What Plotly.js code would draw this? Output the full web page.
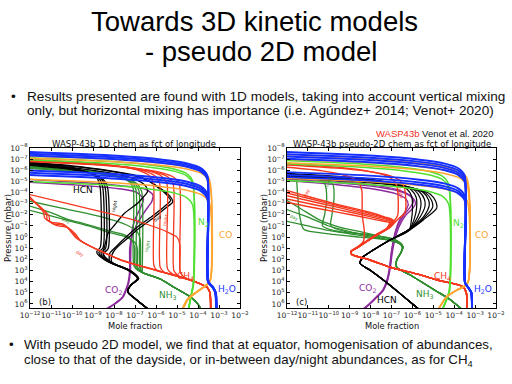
<!DOCTYPE html>
<html><head><meta charset="utf-8">
<script src="https://cdn.plot.ly/plotly-3.0.1.min.js"></script>
<style>html,body{margin:0;padding:0;background:#fff}#chart{width:512px;height:384px}</style>
</head><body><div id="chart"></div>
<script>
// Every profile point is [log10 pressure (mbar), log10 mole fraction].
const xTickExp = [-12,-11,-10,-9,-8,-7,-6,-5,-4,-3,-2];
const yTickExp = [-8,-7,-6,-5,-4,-3,-2,-1,0,1,2,3,4,5,6];

// ---------- panel (b): 1D chemistry ----------
const L_H2O = [
 [[-7.65,-12.2],[-7.3,-7.86],[-6.95,-5.69],[-6.6,-4.47],[-6.2,-3.87],[-5.55,-3.56],[4.0,-3.52],[4.5,-3.3],[5.0,-3.17],[6.45,-3.13]],
 [[-7.5,-12.2],[-7.15,-7.86],[-6.8,-5.69],[-6.45,-4.47],[-6.05,-3.87],[-5.4,-3.56],[4.0,-3.51],[4.5,-3.29],[5.0,-3.16],[6.45,-3.12]],
 [[-7.35,-12.2],[-7.0,-7.86],[-6.65,-5.69],[-6.3,-4.47],[-5.9,-3.87],[-5.25,-3.56],[4.0,-3.5],[4.5,-3.28],[5.0,-3.15],[6.45,-3.11]],
 [[-6.0,-12.2],[-5.65,-7.86],[-5.3,-5.69],[-4.95,-4.47],[-4.55,-3.87],[-3.9,-3.56],[4.0,-3.53],[4.5,-3.31],[5.0,-3.18],[6.45,-3.14]],
 [[-5.8,-12.2],[-5.45,-7.86],[-5.1,-5.69],[-4.75,-4.47],[-4.35,-3.87],[-3.7,-3.56],[4.0,-3.52],[4.5,-3.3],[5.0,-3.17],[6.45,-3.13]],
 [[-5.6,-12.2],[-5.25,-7.86],[-4.9,-5.69],[-4.55,-4.47],[-4.15,-3.87],[-3.5,-3.56],[4.0,-3.51],[4.5,-3.29],[5.0,-3.16],[6.45,-3.12]]
];
const L_CO = [
 [[-7.3,-12.2],[-6.95,-7.81],[-6.6,-5.62],[-6.25,-4.39],[-5.85,-3.77],[-5.2,-3.46],[3.9,-3.42],[4.3,-3.6],[4.9,-4.05],[5.6,-4.5],[6.45,-4.73]],
 [[-7.1,-12.2],[-6.75,-7.81],[-6.4,-5.62],[-6.05,-4.39],[-5.65,-3.77],[-5.0,-3.46],[3.9,-3.41],[4.3,-3.58],[4.9,-4.02],[5.6,-4.47],[6.45,-4.71]],
 [[-5.2,-12.2],[-4.85,-7.81],[-4.5,-5.62],[-4.15,-4.39],[-3.75,-3.77],[-3.1,-3.46],[3.9,-3.43],[4.3,-3.62],[4.9,-4.07],[5.6,-4.52],[6.45,-4.75]]
];
const L_N2 = [
 [[-7.15,-12.2],[-6.8,-8.21],[-6.45,-6.22],[-6.1,-5.1],[-5.7,-4.54],[-5.05,-4.26],[4.2,-4.22],[5.0,-4.3],[6.45,-4.45]],
 [[-6.95,-12.2],[-6.6,-8.21],[-6.25,-6.22],[-5.9,-5.1],[-5.5,-4.54],[-4.85,-4.26],[4.2,-4.21],[5.0,-4.29],[6.45,-4.44]],
 [[-5.0,-12.2],[-4.65,-8.21],[-4.3,-6.22],[-3.95,-5.1],[-3.55,-4.54],[-2.9,-4.26],[4.2,-4.23],[5.0,-4.31],[6.45,-4.46]]
];
const L_CH4_deep = [[4.0,-4.15],[4.5,-3.57],[5.0,-3.43],[6.45,-3.4]];
const L_CH4 = [
 [[-7.0,-12.2],[-6.65,-9.15],[-6.3,-7.63],[-5.95,-6.77],[-5.55,-6.34],[-4.9,-6.13],[2.55,-6.1],[3.0,-5.95],[3.3,-5.35],[3.6,-4.8],...L_CH4_deep],
 [[-6.95,-12.2],[-6.6,-9.0],[-6.25,-7.4],[-5.9,-6.5],[-5.5,-6.06],[-4.85,-5.83],[2.7,-5.8],[3.15,-5.6],[3.4,-5.2],[3.6,-4.8],...L_CH4_deep],
 [[-6.9,-12.2],[-6.55,-8.83],[-6.2,-7.14],[-5.85,-6.19],[-5.45,-5.72],[-4.8,-5.48],[2.85,-5.45],[3.3,-5.22],[3.6,-4.8],...L_CH4_deep],
 [[-6.85,-12.2],[-6.5,-8.68],[-6.15,-6.91],[-5.8,-5.93],[-5.4,-5.43],[-4.75,-5.18],[3.0,-5.15],[3.4,-4.98],[3.65,-4.72],...L_CH4_deep],
 [[-6.8,-12.2],[-6.45,-8.53],[-6.1,-6.69],[-5.75,-5.66],[-5.35,-5.14],[-4.7,-4.88],[3.1,-4.85],[3.5,-4.72],[3.75,-4.5],...L_CH4_deep],
 [[-4.0,-12.2],[-3.0,-11.7],[-2.2,-11.35],[-1.7,-11.3],[-1.35,-11.0],[-1.15,-10.4],[-0.6,-10.1],[0.0,-9.85],[0.5,-9.45],[1.4,-8.45],[2.05,-7.67],[2.7,-6.5],[3.6,-4.8],...L_CH4_deep],
 [[-3.85,-12.2],[-2.85,-11.6],[-2.05,-11.22],[-1.55,-11.17],[-1.2,-10.87],[-1.0,-10.3],[-0.45,-9.98],[0.15,-9.72],[0.65,-9.3],[1.5,-8.35],[2.1,-7.6],[2.72,-6.47],[3.6,-4.8],...L_CH4_deep],
 [[-3.7,-12.2],[-2.7,-11.5],[-1.9,-11.1],[-1.4,-11.05],[-1.05,-10.75],[-0.85,-10.2],[-0.3,-9.85],[0.3,-9.6],[0.8,-9.15],[1.6,-8.25],[2.15,-7.55],[2.75,-6.45],[3.6,-4.8],...L_CH4_deep],
 [[-3.9,-12.2],[-3.0,-10.2],[-2.15,-8.3],[-1.5,-7.0],[-1.0,-6.2],[-0.5,-5.5],[0.0,-5.0],[0.6,-4.87],[1.5,-4.85],[3.1,-4.85],[3.5,-4.72],[3.75,-4.5],...L_CH4_deep]
];
const L_HCN_deep = [[4.3,-7.2],[4.9,-7.35],[5.6,-6.95],[6.45,-6.38]];
const L_HCN = [
 [[-6.7,-12.2],[-6.35,-10.43],[-6.0,-9.54],[-5.65,-9.04],[-5.25,-8.79],[-4.6,-8.67],[0.9,-8.65],[1.3,-8.82],[1.6,-8.75],[2.2,-8.3],[2.95,-7.35],[3.7,-6.88],...L_HCN_deep],
 [[-6.62,-12.2],[-6.27,-10.36],[-5.92,-9.44],[-5.57,-8.92],[-5.17,-8.67],[-4.52,-8.54],[0.95,-8.52],[1.35,-8.72],[1.65,-8.65],[2.25,-8.22],[2.97,-7.3],[3.7,-6.86],...L_HCN_deep],
 [[-6.55,-12.2],[-6.2,-10.3],[-5.85,-9.35],[-5.5,-8.82],[-5.1,-8.55],[-4.45,-8.42],[1.0,-8.4],[1.4,-8.62],[1.7,-8.55],[2.3,-8.12],[3.0,-7.25],[3.72,-6.84],...L_HCN_deep],
 [[-6.48,-12.2],[-6.13,-10.24],[-5.78,-9.26],[-5.43,-8.71],[-5.03,-8.44],[-4.38,-8.3],[1.05,-8.28],[1.45,-8.5],[1.75,-8.45],[2.35,-8.05],[3.02,-7.2],[3.74,-6.82],...L_HCN_deep],
 [[-6.75,-12.2],[-6.4,-10.0],[-6.0,-8.3],[-5.6,-7.1],[-5.1,-6.4],[-4.6,-6.0],[-4.0,-5.6],[-3.6,-5.4],[-3.3,-5.3],[-2.75,-5.6],[-1.85,-6.2],[-0.95,-6.86],[-0.05,-7.4],[0.85,-7.9],[1.45,-8.2],[2.2,-8.2],[2.95,-7.35],[3.7,-6.88],...L_HCN_deep],
 [[-6.7,-12.2],[-6.35,-10.0],[-5.95,-8.3],[-5.5,-7.0],[-5.0,-6.3],[-4.5,-5.9],[-3.9,-5.45],[-3.45,-5.25],[-3.15,-5.2],[-2.6,-5.55],[-1.7,-6.15],[-0.8,-6.8],[0.1,-7.35],[1.0,-7.9],[1.6,-8.1],[2.25,-8.1],[3.0,-7.25],[3.72,-6.84],...L_HCN_deep],
 [[-6.6,-12.2],[-6.2,-9.8],[-5.7,-8.0],[-5.2,-7.0],[-4.6,-6.5],[-4.1,-6.4],[-3.6,-6.6],[-3.06,-6.86],[-2.14,-7.5],[-1.09,-7.97],[-0.34,-8.29],[0.5,-8.4],[1.2,-8.5],[1.6,-8.5],[2.3,-8.1],[3.0,-7.25],[3.72,-6.84],...L_HCN_deep]
];
const L_NH3_deep = [[3.2,-6.62],[3.8,-5.75],[4.45,-5.19],[5.2,-4.5],[5.9,-4.05],[6.45,-3.86]];
const L_NH3 = [
 [[-6.4,-12.2],[-6.05,-9.63],[-5.7,-8.34],[-5.35,-7.62],[-4.95,-7.26],[-4.3,-7.08],[2.6,-7.05],[3.0,-6.85],...L_NH3_deep],
 [[-6.32,-12.2],[-5.97,-9.56],[-5.62,-8.24],[-5.27,-7.5],[-4.87,-7.13],[-4.22,-6.95],[2.65,-6.92],[3.0,-6.8],...L_NH3_deep],
 [[-6.25,-12.2],[-5.9,-9.49],[-5.55,-8.14],[-5.2,-7.38],[-4.8,-7.0],[-4.15,-6.81],[2.7,-6.78],[3.0,-6.72],...L_NH3_deep],
 [[-6.18,-12.2],[-5.83,-9.43],[-5.48,-8.04],[-5.13,-7.26],[-4.73,-6.87],[-4.08,-6.68],[2.75,-6.65],[3.05,-6.65],...L_NH3_deep],
 [[-2.9,-12.2],[-2.2,-11.0],[-1.6,-10.2],[-1.2,-9.4],[-0.6,-8.3],[-0.2,-7.5],[0.4,-7.1],[1.0,-7.02],[2.6,-7.0],[3.0,-6.83],...L_NH3_deep],
 [[-2.5,-12.2],[-1.9,-11.0],[-1.4,-10.0],[-1.0,-9.2],[-0.4,-8.2],[0.0,-7.4],[0.6,-6.95],[1.2,-6.88],[2.65,-6.88],[3.0,-6.78],...L_NH3_deep],
 [[-3.3,-12.2],[-2.6,-10.5],[-2.0,-9.0],[-1.5,-8.0],[-1.0,-7.3],[-0.5,-6.9],[0.2,-6.75],[2.7,-6.73],[3.05,-6.7],...L_NH3_deep]
];
const L_CO2 = [
 [[-5.2,-12.2],[-4.9,-9.5],[-4.6,-7.6],[-4.3,-6.5],[-3.8,-6.15],[-3.2,-6.2],[-2.4,-6.5],[-1.2,-6.9],[0.0,-7.15],[1.0,-7.25],[3.0,-7.25],[4.1,-7.33],[5.0,-7.5],[5.4,-7.6],[6.0,-8.0],[6.45,-8.38]],
 [[-4.95,-12.2],[-4.65,-9.6],[-4.35,-7.8],[-4.0,-6.9],[-3.4,-6.6],[-2.6,-6.75],[-1.6,-7.0],[-0.5,-7.15],[1.0,-7.2],[3.0,-7.22],[4.1,-7.3],[5.0,-7.47],[5.4,-7.58],[6.0,-7.95],[6.45,-8.33]]
];

// ---------- panel (c): pseudo-2D chemistry ----------
const R_H2O_deep = [[4.1,-3.48],[4.6,-3.3],[5.0,-3.18],[6.45,-3.15]];
const R_H2O = [
 [[-7.65,-12.2],[-7.3,-7.84],[-6.95,-5.66],[-6.6,-4.44],[-6.2,-3.83],[-5.55,-3.5],...R_H2O_deep],
 [[-7.45,-12.2],[-7.1,-7.84],[-6.75,-5.66],[-6.4,-4.44],[-6.0,-3.83],[-5.35,-3.5],...R_H2O_deep],
 [[-7.25,-12.2],[-6.9,-7.84],[-6.55,-5.66],[-6.2,-4.44],[-5.8,-3.83],[-5.15,-3.5],...R_H2O_deep],
 [[-7.05,-12.2],[-6.7,-7.84],[-6.35,-5.66],[-6.0,-4.44],[-5.6,-3.83],[-4.95,-3.5],...R_H2O_deep],
 [[-5.85,-12.2],[-5.5,-7.84],[-5.15,-5.66],[-4.8,-4.44],[-4.4,-3.83],[-3.75,-3.5],...R_H2O_deep],
 [[-5.6,-12.2],[-5.25,-7.84],[-4.9,-5.66],[-4.55,-4.44],[-4.15,-3.83],[-3.5,-3.5],...R_H2O_deep],
 [[-5.4,-12.2],[-5.05,-7.84],[-4.7,-5.66],[-4.35,-4.44],[-3.95,-3.83],[-3.3,-3.5],...R_H2O_deep]
];
const R_CO_deep = [[4.0,-3.33],[4.4,-3.5],[4.75,-3.88],[5.35,-4.36],[6.45,-4.75]];
const R_CO = [
 [[-7.3,-12.2],[-6.95,-7.77],[-6.6,-5.55],[-6.25,-4.31],[-5.85,-3.68],[-5.2,-3.37],...R_CO_deep],
 [[-7.0,-12.2],[-6.65,-7.77],[-6.3,-5.55],[-5.95,-4.31],[-5.55,-3.68],[-4.9,-3.37],...R_CO_deep],
 [[-6.7,-12.2],[-6.35,-7.77],[-6.0,-5.55],[-5.65,-4.31],[-5.25,-3.68],[-4.6,-3.37],...R_CO_deep],
 [[-5.3,-12.2],[-4.95,-7.77],[-4.6,-5.55],[-4.25,-4.31],[-3.85,-3.68],[-3.2,-3.37],...R_CO_deep]
];
const R_N2 = [
 [[-6.9,-12.2],[-6.55,-8.22],[-6.2,-6.22],[-5.85,-5.11],[-5.45,-4.55],[-4.8,-4.27],[4.8,-4.23],[5.5,-4.35],[6.45,-4.55]],
 [[-6.6,-12.2],[-6.25,-8.22],[-5.9,-6.22],[-5.55,-5.11],[-5.15,-4.55],[-4.5,-4.27],[4.8,-4.22],[5.5,-4.34],[6.45,-4.54]],
 [[-5.1,-12.2],[-4.75,-8.22],[-4.4,-6.22],[-4.05,-5.11],[-3.65,-4.55],[-3.0,-4.27],[4.8,-4.24],[5.5,-4.36],[6.45,-4.56]]
];
const R_CH4_deep = [[1.3,-8.95],[1.55,-8.9],[2.05,-8.03],[2.7,-7.07],[3.3,-5.78],[3.85,-4.82],[4.45,-3.58],[5.0,-3.42],[6.45,-3.4]];
const R_CH4 = [
 [[-4.3,-12.2],[-3.6,-10.9],[-2.9,-9.5],[-2.3,-8.2],[-1.8,-7.3],[-1.5,-6.9],[-0.9,-7.05],[-0.3,-7.6],[0.4,-8.2],[0.9,-8.6],...R_CH4_deep],
 [[-4.05,-12.2],[-3.4,-10.8],[-2.75,-9.4],[-2.2,-8.2],[-1.75,-7.35],[-1.45,-6.95],[-0.88,-7.1],[-0.28,-7.65],[0.42,-8.22],[0.92,-8.62],...R_CH4_deep],
 [[-3.8,-12.2],[-3.2,-10.8],[-2.6,-9.4],[-2.05,-8.2],[-1.7,-7.4],[-1.4,-7.0],[-0.85,-7.15],[-0.25,-7.7],[0.45,-8.25],[0.95,-8.63],...R_CH4_deep],
 [[-3.5,-12.2],[-2.95,-10.8],[-2.45,-9.5],[-2.0,-8.4],[-1.6,-7.5],[-1.35,-7.05],[-0.82,-7.2],[-0.22,-7.72],[0.47,-8.27],[0.97,-8.65],...R_CH4_deep],
 [[-3.2,-12.2],[-2.7,-10.9],[-2.25,-9.6],[-1.85,-8.5],[-1.5,-7.6],[-1.3,-7.1],[-0.8,-7.22],[-0.2,-7.75],[0.5,-8.3],[1.0,-8.67],...R_CH4_deep],
 [[-6.6,-12.2],[-6.25,-9.45],[-5.9,-8.08],[-5.55,-7.3],[-5.15,-6.92],[-4.5,-6.73],[-2.0,-6.7],[-1.5,-6.85],[-0.9,-7.05],[-0.3,-7.6],[0.4,-8.2],[0.9,-8.6],...R_CH4_deep],
 [[-6.5,-12.2],[-6.15,-9.28],[-5.8,-7.81],[-5.45,-6.99],[-5.05,-6.58],[-4.4,-6.38],[-2.2,-6.35],[-1.6,-6.7],[-1.0,-7.0],[-0.35,-7.55],[0.35,-8.15],[0.88,-8.58],...R_CH4_deep],
 [[-6.3,-12.2],[-5.95,-10.3],[-5.6,-9.35],[-5.25,-8.82],[-4.85,-8.55],[-4.2,-8.42],[-2.0,-8.4],[-0.5,-8.3],[0.4,-8.35],[0.9,-8.65],...R_CH4_deep]
];
const R_HCN_deep = [[0.26,-7.07],[1.16,-7.87],[1.76,-8.35],[2.35,-8.5],[3.0,-8.0],[3.85,-7.39],[5.05,-6.6],[6.3,-5.8],[6.45,-5.7]];
const R_HCN = [
 [[-5.75,-12.2],[-5.4,-9.1],[-5.05,-7.55],[-4.7,-6.68],[-4.3,-6.25],[-3.65,-6.03],[-2.4,-6.0],[-1.5,-6.05],[-0.64,-6.15],...R_HCN_deep],
 [[-5.68,-12.2],[-5.33,-9.0],[-4.98,-7.4],[-4.63,-6.5],[-4.23,-6.05],[-3.58,-5.82],[-2.6,-5.8],[-1.7,-5.9],[-0.8,-6.1],[-0.5,-6.3],...R_HCN_deep],
 [[-5.6,-12.2],[-5.25,-8.9],[-4.9,-7.25],[-4.55,-6.33],[-4.15,-5.86],[-3.5,-5.63],[-2.7,-5.6],[-1.8,-5.75],[-0.9,-6.05],[-0.55,-6.25],...R_HCN_deep],
 [[-5.52,-12.2],[-5.17,-8.8],[-4.82,-7.1],[-4.47,-6.15],[-4.07,-5.67],[-3.42,-5.43],[-2.75,-5.4],[-1.9,-5.6],[-1.0,-5.95],[-0.55,-6.28],...R_HCN_deep],
 [[-5.45,-12.2],[-5.1,-8.7],[-4.75,-6.95],[-4.4,-5.97],[-4.0,-5.48],[-3.35,-5.23],[-2.8,-5.2],[-2.0,-5.4],[-1.2,-5.8],[-0.5,-6.3],...R_HCN_deep],
 [[-5.38,-12.2],[-5.03,-8.63],[-4.68,-6.84],[-4.33,-5.84],[-3.93,-5.34],[-3.28,-5.08],[-2.7,-5.03],[-1.8,-5.4],[-0.9,-5.95],[-0.45,-6.35],...R_HCN_deep],
 [[-5.3,-12.2],[-4.95,-8.53],[-4.6,-6.69],[-4.25,-5.66],[-3.85,-5.14],[-3.2,-4.88],[-2.6,-4.84],[-1.54,-5.48],[-0.64,-6.12],[-0.3,-6.4],...R_HCN_deep]
];
const R_NH3_deep = [[1.4,-6.55],[2.05,-6.75],[2.7,-6.75],[3.4,-6.1],[4.1,-5.5],[4.85,-4.85],[5.6,-4.2],[6.45,-3.65]];
const R_NH3 = [
 [[-3.5,-12.2],[-2.5,-11.3],[-1.5,-10.4],[-0.9,-9.5],[-0.4,-8.3],[0.0,-7.4],[0.26,-6.91],[0.86,-6.45],...R_NH3_deep],
 [[-2.6,-12.2],[-1.8,-11.0],[-1.0,-10.0],[-0.5,-9.0],[-0.1,-8.0],[0.2,-7.2],[0.5,-6.7],[0.9,-6.45],...R_NH3_deep],
 [[-1.5,-12.2],[-1.0,-11.0],[-0.6,-10.0],[-0.3,-9.0],[0.0,-8.0],[0.3,-7.1],[0.6,-6.6],[0.95,-6.5],...R_NH3_deep],
 [[-5.8,-12.2],[-5.3,-10.6],[-4.8,-10.2],[-3.5,-10.1],[-2.0,-10.2],[-1.0,-10.3],[-0.5,-9.5],[-0.2,-8.0],[0.1,-7.0],[0.5,-6.6],[0.9,-6.45],...R_NH3_deep],
 [[-5.7,-12.2],[-5.2,-10.2],[-4.7,-9.8],[-3.5,-9.75],[-2.0,-9.85],[-1.0,-9.9],[-0.5,-9.2],[-0.15,-7.8],[0.15,-6.95],[0.55,-6.55],[0.9,-6.45],...R_NH3_deep],
 [[-6.0,-12.2],[-5.5,-11.6],[-4.0,-11.5],[-2.0,-11.4],[-0.7,-11.2],[-0.3,-10.0],[0.0,-8.5],[0.26,-7.1],[0.6,-6.6],[0.9,-6.47],...R_NH3_deep]
];
const R_CO2 = [
 [[-5.4,-12.2],[-5.0,-9.5],[-4.6,-7.6],[-4.2,-6.6],[-3.7,-6.1],[-3.2,-5.95],[-2.7,-6.1],[-2.0,-6.4],[-1.0,-6.7],[0.26,-6.9],[1.5,-7.0],[2.65,-7.07],[3.85,-7.2],[4.75,-7.4],[5.35,-7.7],[6.25,-8.2],[6.45,-8.35]],
 [[-5.25,-12.2],[-4.85,-9.4],[-4.45,-7.5],[-4.05,-6.5],[-3.55,-6.0],[-3.05,-5.85],[-2.55,-6.0],[-1.9,-6.35],[-0.9,-6.65],[0.3,-6.85],[1.5,-6.97],[2.65,-7.05],[3.85,-7.18],[4.75,-7.38],[5.35,-7.68],[6.25,-8.18],[6.45,-8.33]],
 [[-5.1,-12.2],[-4.7,-9.6],[-4.3,-7.8],[-3.9,-6.8],[-3.4,-6.3],[-2.9,-6.2],[-2.3,-6.35],[-1.6,-6.6],[-0.6,-6.8],[0.4,-6.92],[1.5,-7.02],[2.65,-7.09],[3.85,-7.22],[4.75,-7.42],[5.35,-7.72],[6.25,-8.22],[6.45,-8.37]]
];

const speciesNames = ['HCN','N<sub>2</sub>','CO','CH<sub>4</sub>','H<sub>2</sub>O','CO<sub>2</sub>','NH<sub>3</sub>'];
const speciesColors = ['#000000','#4fe030','#ffa531','#f5391f','#1530ff','#8c2a9c','#2f8f2f'];
const panelTitles = ['WASP-43b 1D chem as fct of longitude','WASP-43b pseudo-2D chem as fct of longitude'];

// ---------- build ----------
const COL = {HCN:'#000000', N2:'#4fe030', CO:'#ffa531', CH4:'#f5391f', H2O:'#1530ff', CO2:'#8c2a9c', NH3:'#2f8f2f'};
function mk(curves, color, width, panel){
  return curves.map(c => ({
    type:'scatter', mode:'lines',
    x: c.map(p => Math.pow(10, p[1])),
    y: c.map(p => Math.pow(10, p[0])),
    xaxis: panel===2 ? 'x2' : 'x', yaxis: panel===2 ? 'y2' : 'y',
    line:{color:color, width:width, shape:'spline', smoothing:0.7},
    hoverinfo:'skip', showlegend:false
  }));
}
const traces = [].concat(
  mk(L_CO2, COL.CO2, 1.5, 1), mk(L_NH3, COL.NH3, 1.3, 1), mk(L_HCN, COL.HCN, 1.3, 1),
  mk(L_CH4, COL.CH4, 1.3, 1), mk(L_N2, COL.N2, 1.5, 1), mk(L_CO, COL.CO, 1.5, 1), mk(L_H2O, COL.H2O, 2.0, 1),
  mk(R_CO2, COL.CO2, 1.4, 2), mk(R_NH3, COL.NH3, 1.3, 2), mk(R_HCN, COL.HCN, 1.2, 2),
  mk(R_CH4, COL.CH4, 1.4, 2), mk(R_N2, COL.N2, 1.5, 2), mk(R_CO, COL.CO, 1.5, 2), mk(R_H2O, COL.H2O, 1.9, 2)
);

const tickFont = {family:'DejaVu Sans', size:7.5, color:'#222'};
function xAx(dom, anchor){
  return {type:'log', range:[-12,-2], domain:dom, anchor:anchor,
    tickmode:'array', tickvals:xTickExp.map(e=>Math.pow(10,e)),
    ticktext:xTickExp.map(e=>'10<sup>'+String(e).replace('-','\u2212')+'</sup>'),
    tickangle:0, ticks:'inside', ticklen:3, tickcolor:'#000', showline:true, linecolor:'#000',
    linewidth:1, mirror:'ticks', showgrid:false, zeroline:false, tickfont:tickFont};
}
function yAx(anchor){
  return {type:'log', range:[6.36,-8], domain:[1-308/384, 1-148/384], anchor:anchor,
    tickmode:'array', tickvals:yTickExp.map(e=>Math.pow(10,e)),
    ticktext:yTickExp.map(e=>'10<sup>'+String(e).replace('-','\u2212')+'</sup>'),
    ticks:'inside', ticklen:3, tickcolor:'#000', showline:true, linecolor:'#000',
    linewidth:1, mirror:'ticks', showgrid:false, zeroline:false, tickfont:tickFont};
}
const X = v => v/512, Y = v => 1 - v/384;
function ann(text, x, y, o){
  return Object.assign({text:text, x:X(x), y:Y(y), xref:'paper', yref:'paper', showarrow:false,
    xanchor:'center', yanchor:'middle', font:{family:'DejaVu Sans', size:9, color:'#000'}}, o||{});
}
const slideFont = {family:'Liberation Sans', size:13.6, color:'#111'};
const slideFont2 = {family:'Liberation Sans', size:13.3, color:'#111'};
const annotations = [
  ann('Towards 3D kinetic models', 254, 22, {font:{family:'Liberation Sans', size:27.5, color:'#000'}}),
  ann('- pseudo 2D model', 261, 52, {font:{family:'Liberation Sans', size:27.5, color:'#000'}}),
  ann('\u2022', 13, 96, {font:slideFont}),
  ann('Results presented are found with 1D models, taking into account vertical mixing', 25, 96, {xanchor:'left', font:slideFont}),
  ann('only, but horizontal mixing has importance (i.e. Ag\u00fandez+ 2014; Venot+ 2020)', 25, 110.5, {xanchor:'left', font:slideFont}),
  ann('<span style="color:#f0321e">WASP43b</span> Venot et al. 2020', 495, 133, {xanchor:'right', font:{family:'Liberation Sans', size:9.5, color:'#111'}}),
  ann(panelTitles[0], 134, 143.5, {font:{family:'DejaVu Sans', size:8.5, color:'#111'}}),
  ann(panelTitles[1], 392, 143.5, {font:{family:'DejaVu Sans', size:8.5, color:'#111'}}),
  ann('Pressure (mbar)', 8, 228, {textangle:-90, font:{family:'DejaVu Sans', size:8.5, color:'#111'}}),
  ann('Pressure (mbar)', 264, 228, {textangle:-90, font:{family:'DejaVu Sans', size:8.5, color:'#111'}}),
  ann('Mole fraction', 135, 326, {font:{family:'DejaVu Sans', size:8.3, color:'#111'}}),
  ann('Mole fraction', 392, 326, {font:{family:'DejaVu Sans', size:8.3, color:'#111'}}),
  ann('\u2022', 11, 344.5, {font:slideFont2}),
  ann('With pseudo 2D model, we find that at equator, homogenisation of abundances,', 22, 344.5, {xanchor:'left', font:slideFont2}),
  ann('close to that of the dayside, or in-between day/night abundances, as for CH<sub>4</sub>', 22, 360.5, {xanchor:'left', font:slideFont2}),
  // species labels, panel (b)
  ann(speciesNames[0], 83, 190, {font:{family:'DejaVu Sans', size:9, color:speciesColors[0]}}),
  ann(speciesNames[1], 203, 222, {font:{family:'DejaVu Sans', size:9, color:speciesColors[1]}}),
  ann(speciesNames[2], 225, 235, {font:{family:'DejaVu Sans', size:9, color:speciesColors[2]}}),
  ann(speciesNames[3], 185, 276, {font:{family:'DejaVu Sans', size:9, color:speciesColors[3]}}),
  ann(speciesNames[4], 227, 289, {font:{family:'DejaVu Sans', size:9, color:speciesColors[4]}}),
  ann(speciesNames[5], 113, 290, {font:{family:'DejaVu Sans', size:9, color:speciesColors[5]}}),
  ann(speciesNames[6], 168, 295, {font:{family:'DejaVu Sans', size:9, color:speciesColors[6]}}),
  ann('(b)', 45, 302, {font:{family:'DejaVu Sans', size:8.5, color:'#111'}}),
  // species labels, panel (c)
  ann(speciesNames[1], 458, 223, {font:{family:'DejaVu Sans', size:9, color:speciesColors[1]}}),
  ann(speciesNames[2], 481, 235, {font:{family:'DejaVu Sans', size:9, color:speciesColors[2]}}),
  ann(speciesNames[3], 442, 276, {font:{family:'DejaVu Sans', size:9, color:speciesColors[3]}}),
  ann(speciesNames[4], 483, 289, {font:{family:'DejaVu Sans', size:9, color:speciesColors[4]}}),
  ann(speciesNames[5], 367, 288, {font:{family:'DejaVu Sans', size:9, color:speciesColors[5]}}),
  ann(speciesNames[0], 387, 300, {font:{family:'DejaVu Sans', size:9, color:speciesColors[0]}}),
  ann(speciesNames[6], 425, 294, {font:{family:'DejaVu Sans', size:9, color:speciesColors[6]}}),
  ann('(c)', 301, 302, {font:{family:'DejaVu Sans', size:8.5, color:'#111'}}),
  // tiny day / night tags
  ann('night', 114, 206, {textangle:-80, font:{family:'DejaVu Sans', size:4.5, color:'#000'}}),
  ann('night', 165, 220, {textangle:-80, font:{family:'DejaVu Sans', size:4.5, color:COL.CH4}}),
  ann('night', 147, 246, {textangle:-80, font:{family:'DejaVu Sans', size:4.5, color:COL.NH3}}),
  ann('day', 157, 218, {textangle:-40, font:{family:'DejaVu Sans', size:4.5, color:'#000'}}),
  ann('day', 66, 220, {textangle:20, font:{family:'DejaVu Sans', size:4.5, color:COL.NH3}}),
  ann('day', 80, 253, {textangle:25, font:{family:'DejaVu Sans', size:4.5, color:COL.CH4}}),
  ann('day', 306, 193, {textangle:-60, font:{family:'DejaVu Sans', size:4.5, color:COL.CH4}}),
  ann('night', 328, 183, {textangle:-70, font:{family:'DejaVu Sans', size:4.5, color:COL.NH3}}),
  ann('day', 294, 217, {textangle:20, font:{family:'DejaVu Sans', size:4.5, color:COL.NH3}}),
  ann('night', 401, 193, {textangle:80, font:{family:'DejaVu Sans', size:4.5, color:COL.CH4}})
];

const layout = {
  width:512, height:384, margin:{l:0,r:0,t:0,b:0},
  paper_bgcolor:'#fff', plot_bgcolor:'#fff', showlegend:false,
  xaxis: xAx([30/512, 240/512], 'y'),
  yaxis: yAx('x'),
  xaxis2: xAx([287/512, 496/512], 'y2'),
  yaxis2: yAx('x2'),
  annotations: annotations
};
Plotly.newPlot('chart', traces, layout, {staticPlot:true, displayModeBar:false});
</script></body></html>
